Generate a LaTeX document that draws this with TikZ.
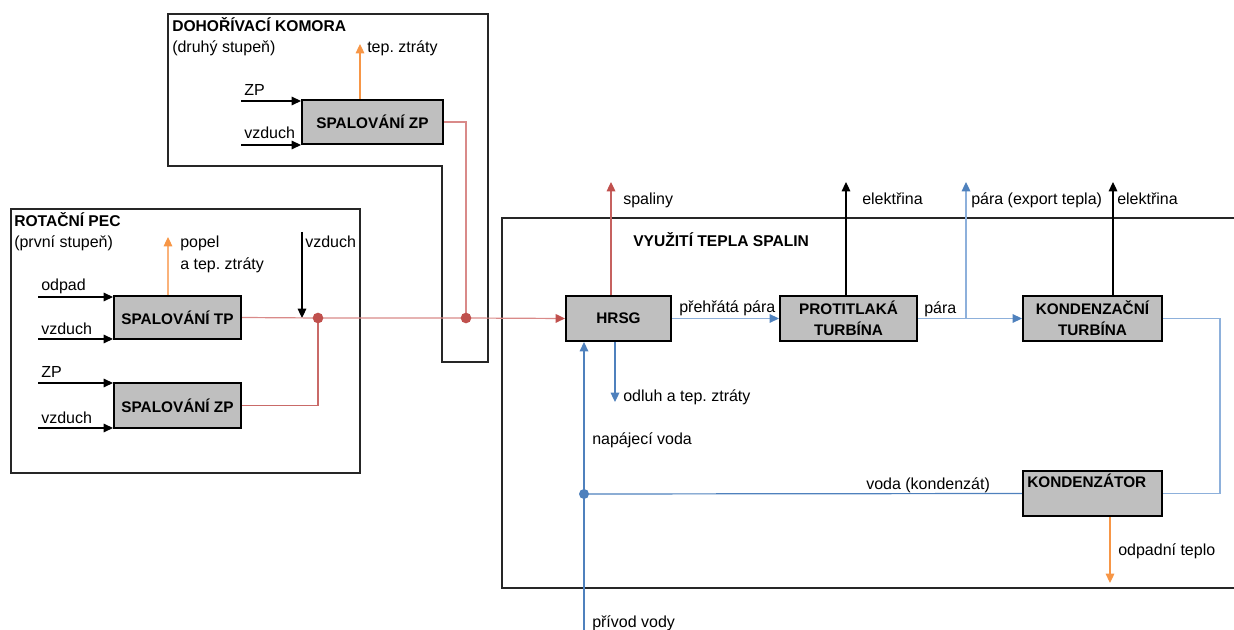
\documentclass[tikz,border=0pt]{standalone}
\usepackage{fontspec}
\setmainfont{Liberation Sans}
\usetikzlibrary{arrows.meta,fit}
\frenchspacing
\definecolor{boxgray}{HTML}{BFBFBF}
\definecolor{redl}{HTML}{D98A89}
\definecolor{redd}{HTML}{C0504D}
\definecolor{bluel}{HTML}{8DB0DB}
\definecolor{blued}{HTML}{4F81BD}
\definecolor{orn}{HTML}{F79646}
\definecolor{ornl}{HTML}{FAB27A}
\begin{document}
\begin{tikzpicture}[x=0.75pt,y=-0.75pt,
  every node/.style={font=\fontsize{12}{14}\selectfont},
  box/.style={draw=black, line width=1.6pt, fill=boxgray, inner sep=0pt},
  btxt/.style={inner sep=0pt, align=center, font=\fontsize{11.5}{16}\selectfont\bfseries},
  frame/.style={draw=black!85, line width=0.9pt},
  lbl/.style={anchor=base west, inner sep=0pt},
  ttl/.style={anchor=base west, inner sep=0pt, font=\fontsize{11.7}{14}\selectfont\bfseries},
  tip/.style={-{Triangle[length=7pt,width=6.5pt,color=#1]}},
  blk/.style={draw=black, line width=0.8pt, tip=black},
  dot/.style={circle, inner sep=0pt, minimum size=8pt}
]
\path[use as bounding box] (0,0) rectangle (1234,630);

% ---------- frames ----------
\draw[frame] (168,14) -- (488,14) -- (488,362) -- (442,362) -- (442,166) -- (168,166) -- cycle;
\draw[frame] (11,209) rectangle (360,473);
\draw[frame] (1234,218) -- (502,218) -- (502,588) -- (1234,588);

% ---------- titles ----------
\node[ttl] (t1) at (172,32) {DOHOŘÍVACÍ KOMORA};
\node[lbl] (t1b) at (172,53) {(druhý stupeň)};
\node[ttl] (t2) at (14,227) {ROTAČNÍ PEC};
\node[lbl] (t2b) at (14,248) {(první stupeň)};
\node[ttl] (t3) at (633,247) {VYUŽITÍ TEPLA SPALIN};

% ---------- boxes ----------
\node[box, fit={(302,100)(443,144)}] (dzp) {};
\node[btxt] at (dzp.center) {SPALOVÁNÍ ZP};
\node[box, fit={(114,296)(241,339)}] (tp) {};
\node[btxt] at (tp.center) {SPALOVÁNÍ TP};
\node[box, fit={(114,383)(241,428)}] (rzp) {};
\node[btxt] at (rzp.center) {SPALOVÁNÍ ZP};
\node[box, fit={(566,296)(671,341)}] (hrsg) {};
\node[btxt] at (hrsg.center) {HRSG};
\node[box, fit={(780,296)(917,341)}] (prot) {};
\node[btxt] at (prot.center) {PROTITLAKÁ\\TURBÍNA};
\node[box, fit={(1023,296)(1162,341)}] (kond) {};
\node[btxt] at (kond.center) {KONDENZAČNÍ\\TURBÍNA};
\node[box, fit={(1023,471)(1162,516)}] (kdz) {};
\node[ttl, font=\fontsize{11.5}{14}\selectfont\bfseries] (kdzt) at (1027,487) {KONDENZÁTOR};

% ---------- dohořívací komora inputs/outputs ----------
\coordinate (a1) at (241,101);
\coordinate (a2) at (241,145);
\draw[blk] (a1) -- (a1 -| dzp.west);
\draw[blk] (a2) -- (a2 -| dzp.west);
\node[lbl] (l1) at (244,96) {ZP};
\node[lbl] (l2) at (244,139) {vzduch};
\coordinate (o1) at (360,44);
\draw[orn, line width=0.8pt, tip=orn] (dzp.north -| o1) -- (o1);
\node[lbl] (l3) at (367,53) {tep. ztráty};

% ---------- rotační pec ----------
\coordinate (b1) at (38,297);
\coordinate (b2) at (38,339);
\coordinate (b3) at (38,383);
\coordinate (b4) at (38,428);
\draw[blk] (b1) -- (b1 -| tp.west);
\draw[blk] (b2) -- (b2 -| tp.west);
\draw[blk] (b3) -- (b3 -| rzp.west);
\draw[blk] (b4) -- (b4 -| rzp.west);
\node[lbl] (l4) at (41,291) {odpad};
\node[lbl] (l5) at (41,335) {vzduch};
\node[lbl] (l6) at (41,378) {ZP};
\node[lbl] (l7) at (41,423) {vzduch};
\coordinate (o2) at (168,237);
\draw[ornl, line width=0.8pt, tip=orn] (tp.north -| o2) -- (o2);
\node[lbl] (l8) at (180,248) {popel};
\node[lbl] (l9) at (180,270) {a tep. ztráty};
\coordinate (v1) at (302,232);
\coordinate (v2) at (302,318);
\draw[blk] (v1) -- (v2);
\node[lbl] (l10) at (305,248) {vzduch};

% ---------- flue gas lines ----------
\coordinate (j1) at (318,318);
\coordinate (j2) at (466,318);
\draw[redl, line width=0.9pt] (dzp.east) -| (j2);
\draw[redd!85, line width=1pt] (rzp.east) -| (j1);
\draw[redl, line width=0.9pt, tip=redd] (tp.east) -- (j1) -- (j2) -- (hrsg.west);
\node[dot, fill=redd] (d1) at (j1) {};
\node[dot, fill=redd] (d2) at (j2) {};

% ---------- HRSG outputs ----------
\coordinate (s1) at (611,182);
\draw[redd!90, line width=0.9pt, tip=redd] (hrsg.north -| s1) -- (s1);
\node[lbl] (l11) at (623,205) {spaliny};
\coordinate (s2) at (615,402);
\draw[blued, line width=0.9pt, tip=blued] (hrsg.south -| s2) -- (s2);
\node[lbl] (l12) at (623,402) {odluh a tep. ztráty};

\draw[bluel, line width=0.9pt, tip=blued] (hrsg.east) -- (prot.west);
\node[lbl] (l13) at (679,313) {přehřátá pára};

% ---------- turbines ----------
\coordinate (e1) at (846,182);
\draw[blk] (prot.north -| e1) -- (e1);
\node[lbl] (l14) at (862,205) {elektřina};
\coordinate (e2) at (1113,182);
\draw[blk] (kond.north -| e2) -- (e2);
\node[lbl] (l15) at (1117,205) {elektřina};

\draw[bluel, line width=0.9pt, tip=blued] (prot.east) -- (kond.west);
\node[lbl] (l16) at (924,314) {pára};
\coordinate (x1) at (966,318);
\coordinate (x2) at (966,182);
\draw[bluel, line width=0.9pt, tip=blued] (x1) -- (x2);
\node[lbl] (l17) at (971,205) {pára (export tepla)};

% ---------- condenser loop ----------
\coordinate (r1) at (1220,318);
\draw[bluel, line width=0.9pt] (kond.east) -- (kond.east -| r1) |- (kdz.east);
\coordinate (j3) at (584,494);
\draw[blued, line width=0.9pt] (kdz.west) -- (j3);
\node[lbl] (l18) at (866,489) {voda (kondenzát)};
\coordinate (pv) at (584,630);
\draw[blued, line width=0.9pt, tip=blued] (pv) -- (hrsg.south -| pv);
\node[dot, fill=blued, minimum size=7.5pt] (d3) at (j3) {};
\node[lbl] (l19) at (592,445) {napájecí voda};
\node[lbl] (l20) at (592,627) {přívod vody};

\coordinate (w1) at (1110,583);
\draw[orn, line width=0.8pt, tip=orn] (kdz.south -| w1) -- (w1);
\node[lbl] (l21) at (1118,555) {odpadní teplo};
\end{tikzpicture}
\end{document}
